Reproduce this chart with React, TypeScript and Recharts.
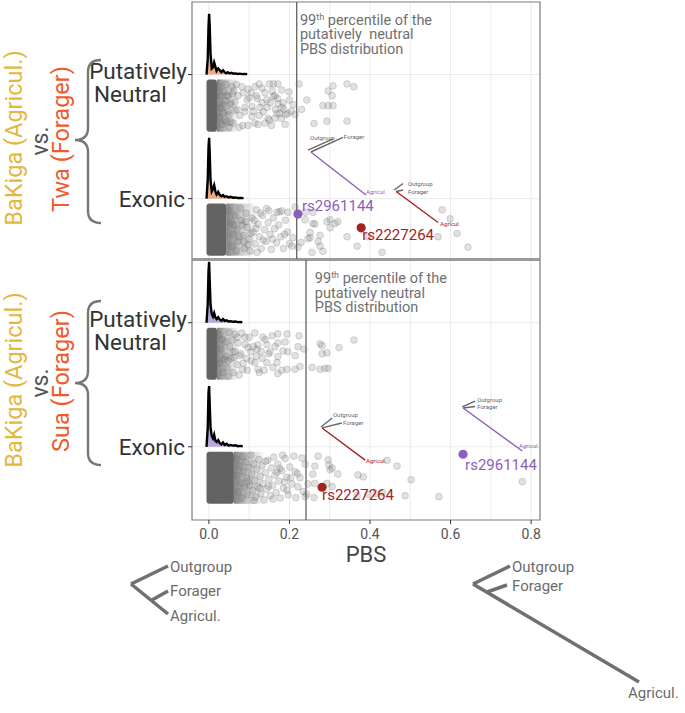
import React from "react";
import {
  ComposedChart,
  Scatter,
  Area,
  XAxis,
  YAxis,
  CartesianGrid,
  ReferenceLine,
  ReferenceArea,
} from "recharts";

// y positions of the four rows (top facet: Twa, bottom facet: Sua)
const rowTwaNeutral = 4;
const rowTwaExonic = 3;
const rowSuaNeutral = 2;
const rowSuaExonic = 1;
const rowTicks = [1, 2, 3, 4];
const pbsTicks = [0, 0.2, 0.4, 0.6, 0.8];
const pbsGrid = [0, 0.1, 0.2, 0.3, 0.4, 0.5, 0.6, 0.7, 0.8];

// 99th percentile of the putatively neutral PBS distribution
const twaCutoff = 0.218;
const suaCutoff = 0.241;

// [PBS, jitter] ; jitter 0 = top of the point strip, 1 = bottom
const twaNeutralPts: [number, number][] = [
  [0.171, 0.04], [0.181, 0.17], [0.199, 0.21], [0.214, 0.69], [0.224, 0.04], [0.243, 0.38],
  [0.261, 0.88], [0.283, 0.5], [0.296, 0.5], [0.308, 0.5], [0.296, 0.19], [0.306, 0.29],
  [0.308, 0.08], [0.343, 0.04], [0.36, 0.1], [0.293, 0.83], [0.343, 0.83], [0.17, 0.35],
  [0.16, 0.31], [0.165, 0.58], [0.18, 0.77], [0.19, 0.69], [0.205, 0.62], [0.15, 0.81],
  [0.155, 0.92], [0.114, 0.1], [0.132, 0.13], [0.139, 0.23], [0.157, 0.19], [0.144, 0.38],
  [0.164, 0.29], [0.184, 0.44], [0.181, 0.54], [0.186, 0.58], [0.169, 0.67], [0.176, 0.67],
  [0.196, 0.67], [0.147, 0.77], [0.164, 0.77], [0.139, 0.87], [0.122, 0.9], [0.114, 0.87],
  [0.097, 0.92], [0.084, 0.92], [0.189, 0.9], [0.152, 0.44], [0.132, 0.44], [0.127, 0.54],
  [0.107, 0.52], [0.089, 0.54], [0.072, 0.29], [0.097, 0.15], [0.082, 0.1], [0.057, 0.1],
  [0.065, 0.42], [0.047, 0.62], [0.077, 0.71], [0.04, 0.81], [0.06, 0.87], [0.045, 0.29],
  [0.035, 0.48], [0.052, 0.48], [0.089, 0.63], [0.107, 0.73], [0.15, 0.04], [0.125, 0.04],
  [0.1, 0.33], [0.118, 0.29], [0.075, 0.96], [0.095, 0.38], [0.062, 0.19], [0.05, 0.96],
  [0.11, 0.62], [0.125, 0.71], [0.135, 0.63], [0.07, 0.58], [0.085, 0.23], [0.105, 0.23],
  [0.145, 0.54], [0.16, 0.04], [0.172, 0.46], [0.2, 0.38], [0.21, 0.48], [0.23, 0.58],
  [0.12, 0.35], [0.025, 0.1], [0.028, 0.3], [0.03, 0.55], [0.026, 0.75], [0.032, 0.9],
  [0.038, 0.2], [0.04, 0.4], [0.036, 0.65], [0.042, 0.05], [0.044, 0.85], [0.048, 0.3],
  [0.05, 0.7], [0.055, 0.45], [0.058, 0.25], [0.054, 0.85], [0.065, 0.6], [0.068, 0.05],
];

const twaExonicPts: [number, number][] = [
  [0.149, 0.1], [0.169, 0.13], [0.181, 0.1], [0.196, 0.13], [0.214, 0.02], [0.239, 0.13],
  [0.258, 0.13], [0.239, 0.29], [0.263, 0.38], [0.301, 0.29], [0.32, 0.33], [0.301, 0.46],
  [0.251, 0.56], [0.276, 0.62], [0.251, 0.67], [0.271, 0.75], [0.229, 0.77], [0.221, 0.87],
  [0.276, 0.85], [0.256, 0.98], [0.206, 0.85], [0.209, 0.67], [0.343, 0.65], [0.368, 0.85],
  [0.43, 0.98], [0.395, 0.65], [0.569, 0.65], [0.579, 0.08], [0.599, 0.27], [0.616, 0.58],
  [0.643, 0.87], [0.283, 0.96], [0.246, 0.69], [0.258, 0.37], [0.293, 0.33], [0.313, 0.37],
  [0.05, 0.1], [0.055, 0.35], [0.06, 0.6], [0.058, 0.85], [0.065, 0.2], [0.07, 0.5],
  [0.072, 0.75], [0.078, 0.05], [0.08, 0.3], [0.085, 0.62], [0.088, 0.9], [0.092, 0.15],
  [0.095, 0.45], [0.1, 0.7], [0.102, 0.95], [0.107, 0.25], [0.11, 0.55], [0.115, 0.8],
  [0.118, 0.08], [0.122, 0.38], [0.125, 0.65], [0.13, 0.9], [0.133, 0.2], [0.138, 0.5],
  [0.142, 0.75], [0.147, 0.35], [0.152, 0.6], [0.155, 0.92], [0.16, 0.25], [0.163, 0.48],
  [0.168, 0.78], [0.173, 0.4], [0.178, 0.65], [0.185, 0.9], [0.19, 0.3], [0.195, 0.55],
  [0.2, 0.8], [0.068, 0.95], [0.083, 0.4], [0.097, 0.82], [0.113, 0.3], [0.128, 0.15],
  [0.143, 0.05], [0.158, 0.7], [0.175, 0.12], [0.188, 0.6], [0.12, 0.98], [0.135, 0.72],
  [0.062, 0.4], [0.075, 0.65], [0.091, 0.33], [0.104, 0.58], [0.117, 0.47], [0.087, 0.76],
];

const suaNeutralPts: [number, number][] = [
  [0.114, 0.06], [0.134, 0.15], [0.157, 0.12], [0.171, 0.08], [0.194, 0.08], [0.224, 0.12],
  [0.171, 0.27], [0.189, 0.25], [0.164, 0.35], [0.144, 0.31], [0.122, 0.31], [0.119, 0.4],
  [0.184, 0.44], [0.196, 0.46], [0.214, 0.54], [0.236, 0.4], [0.221, 0.35], [0.171, 0.56],
  [0.169, 0.69], [0.144, 0.69], [0.114, 0.69], [0.122, 0.83], [0.159, 0.79], [0.181, 0.85],
  [0.194, 0.83], [0.214, 0.83], [0.226, 0.77], [0.171, 0.92], [0.256, 0.79], [0.276, 0.29],
  [0.281, 0.5], [0.293, 0.48], [0.323, 0.37], [0.36, 0.21], [0.288, 0.81], [0.296, 0.81],
  [0.276, 0.83], [0.281, 0.33], [0.104, 0.46], [0.094, 0.6], [0.097, 0.37], [0.089, 0.15],
  [0.082, 0.06], [0.065, 0.08], [0.057, 0.21], [0.072, 0.27], [0.06, 0.46], [0.077, 0.54],
  [0.07, 0.73], [0.047, 0.65], [0.084, 0.83], [0.132, 0.6], [0.152, 0.46], [0.025, 0.1],
  [0.03, 0.4], [0.028, 0.7], [0.035, 0.9], [0.04, 0.25], [0.042, 0.55], [0.045, 0.8],
  [0.05, 0.05], [0.052, 0.35], [0.055, 0.6], [0.06, 0.9], [0.065, 0.45], [0.07, 0.15],
  [0.075, 0.95], [0.08, 0.5], [0.085, 0.7], [0.09, 0.3], [0.095, 0.85], [0.1, 0.15],
  [0.105, 0.65], [0.11, 0.35], [0.125, 0.9], [0.13, 0.45], [0.14, 0.2], [0.148, 0.5],
  [0.033, 0.2], [0.038, 0.62], [0.048, 0.98], [0.062, 0.58], [0.118, 0.55], [0.137, 0.85],
];

const suaExonicPts: [number, number][] = [
  [0.271, 0.04], [0.296, 0.12], [0.298, 0.23], [0.306, 0.29], [0.263, 0.25], [0.231, 0.08],
  [0.239, 0.21], [0.32, 0.42], [0.37, 0.44], [0.383, 0.48], [0.442, 0.13], [0.467, 0.25],
  [0.502, 0.54], [0.263, 0.62], [0.246, 0.63], [0.293, 0.62], [0.306, 0.69], [0.261, 0.92],
  [0.239, 0.9], [0.234, 0.79], [0.487, 0.88], [0.395, 0.85], [0.43, 0.81], [0.571, 0.9],
  [0.778, 0.58], [0.226, 0.5], [0.214, 0.37], [0.221, 0.69], [0.415, 0.83], [0.368, 0.88],
  [0.258, 0.42], [0.301, 0.33], [0.243, 0.85], [0.068, 0.1], [0.07, 0.45], [0.073, 0.8],
  [0.076, 0.25], [0.079, 0.61], [0.081, 0.93], [0.084, 0.05], [0.086, 0.37], [0.089, 0.7],
  [0.091, 0.16], [0.094, 0.51], [0.096, 0.86], [0.099, 0.28], [0.101, 0.66], [0.104, 0.02],
  [0.106, 0.43], [0.109, 0.77], [0.111, 0.2], [0.114, 0.56], [0.116, 0.91], [0.119, 0.32],
  [0.121, 0.69], [0.124, 0.11], [0.127, 0.47], [0.129, 0.84], [0.132, 0.24], [0.134, 0.62],
  [0.137, 0.97], [0.14, 0.39], [0.143, 0.74], [0.146, 0.13], [0.149, 0.53], [0.152, 0.88],
  [0.155, 0.29], [0.158, 0.66], [0.161, 0.06], [0.164, 0.44], [0.167, 0.81], [0.171, 0.21],
  [0.174, 0.57], [0.177, 0.93], [0.181, 0.35], [0.185, 0.72], [0.189, 0.09], [0.193, 0.49],
  [0.197, 0.86], [0.201, 0.27], [0.206, 0.63], [0.211, 0.04], [0.216, 0.92], [0.22, 0.41],
  [0.194, 0.76], [0.169, 0.38], [0.141, 0.15], [0.126, 0.72], [0.097, 0.58], [0.112, 0.98],
  [0.159, 0.95], [0.183, 0.02], [0.203, 0.5], [0.176, 0.3], [0.148, 0.68], [0.188, 0.59],
];

// solid end / faded end of the over-plotted point mass near zero
const twaNeutralCore = [0.02, 0.075];
const twaExonicCore = [0.043, 0.12];
const suaNeutralCore = [0.02, 0.075];
const suaExonicCore = [0.062, 0.14];

// density ridges: [PBS, relative height]
const twaNeutralDensity: [number, number][] = [
  [-0.006, 0], [-0.003, 0.25], [-0.001, 0.8], [0.0005, 1], [0.002, 0.8], [0.004, 0.35],
  [0.007, 0.1], [0.01, 0.12], [0.013, 0.2], [0.016, 0.13], [0.019, 0.06], [0.023, 0.1],
  [0.027, 0.07], [0.031, 0.04], [0.035, 0.07], [0.039, 0.04], [0.043, 0.02], [0.047, 0.04],
  [0.051, 0.02], [0.056, 0.03], [0.061, 0.015], [0.066, 0.02], [0.071, 0.01], [0.077, 0.015],
  [0.083, 0.008], [0.089, 0.012], [0.095, 0.008],
];
const twaExonicDensity: [number, number][] = [
  [-0.006, 0], [-0.003, 0.3], [-0.001, 0.85], [0.0005, 1], [0.002, 0.75], [0.004, 0.3],
  [0.007, 0.12], [0.01, 0.16], [0.013, 0.22], [0.016, 0.12], [0.019, 0.07], [0.023, 0.11],
  [0.027, 0.06], [0.031, 0.04], [0.035, 0.06], [0.039, 0.03], [0.044, 0.04], [0.049, 0.02],
  [0.054, 0.03], [0.06, 0.015], [0.066, 0.02], [0.072, 0.01], [0.079, 0.012], [0.086, 0.008],
];
const suaNeutralDensity: [number, number][] = [
  [-0.006, 0], [-0.003, 0.3], [-0.001, 0.85], [0.0005, 1], [0.002, 0.7], [0.004, 0.3],
  [0.007, 0.14], [0.01, 0.1], [0.013, 0.16], [0.016, 0.09], [0.019, 0.06], [0.023, 0.09],
  [0.027, 0.05], [0.031, 0.03], [0.035, 0.06], [0.039, 0.03], [0.044, 0.04], [0.049, 0.02],
  [0.054, 0.025], [0.06, 0.015], [0.066, 0.02], [0.072, 0.01], [0.078, 0.012], [0.083, 0.006],
];
const suaExonicDensity: [number, number][] = [
  [-0.006, 0], [-0.003, 0.3], [-0.001, 0.9], [0.0005, 1], [0.002, 0.7], [0.004, 0.32],
  [0.007, 0.18], [0.01, 0.14], [0.013, 0.2], [0.016, 0.1], [0.019, 0.08], [0.023, 0.11],
  [0.027, 0.06], [0.031, 0.04], [0.035, 0.07], [0.039, 0.03], [0.044, 0.05], [0.049, 0.02],
  [0.054, 0.03], [0.06, 0.02], [0.066, 0.025], [0.072, 0.01], [0.078, 0.015], [0.084, 0.006],
];

// highlighted SNPs
const twaSnps = [
  { id: "rs2961144", pbs: 0.221, jitter: 0.17 },
  { id: "rs2227264", pbs: 0.378, jitter: 0.46 },
];
const suaSnps = [
  { id: "rs2227264", pbs: 0.281, jitter: 0.7 },
  { id: "rs2961144", pbs: 0.631, jitter: 0.0 },
];

const PURPLE = "#8D5FBA";
const RED = "#A32222";
const GREY = "#666666";
const snpColor: Record<string, string> = { rs2961144: PURPLE, rs2227264: RED };

const FONT = "Roboto, sans-serif";
const DENS_H = 0.49;
const X_DOMAIN: [number, number] = [-0.042, 0.822];
const Y_DOMAIN: [number, number] = [0.41, 4.585];
const TWA_PANEL: [number, number] = [2.515, 4.585];
const SUA_PANEL: [number, number] = [0.41, 2.505];

const jitterY = (row: number, j: number) => row - (0.06 + j * 0.38);
const toPts = (pts: [number, number][], row: number) =>
  pts.map(([x, j]) => ({ x, y: jitterY(row, j) }));
const toDens = (d: [number, number][], row: number) =>
  d.map(([x, h]) => ({ x, y: row + h * DENS_H }));

const groups = [
  { row: rowTwaNeutral, pts: twaNeutralPts, core: twaNeutralCore, dens: twaNeutralDensity, fill: "#EDAA88" },
  { row: rowTwaExonic, pts: twaExonicPts, core: twaExonicCore, dens: twaExonicDensity, fill: "#EDAA88" },
  { row: rowSuaNeutral, pts: suaNeutralPts, core: suaNeutralCore, dens: suaNeutralDensity, fill: "#B8A8DA" },
  { row: rowSuaExonic, pts: suaExonicPts, core: suaExonicCore, dens: suaExonicDensity, fill: "#B8A8DA" },
];

// label offsets (px) for the SNP names
const snpData = [
  ...twaSnps.map((s, i) => ({
    x: s.pbs, y: jitterY(rowTwaExonic, s.jitter), id: s.id, color: snpColor[s.id],
    dx: i === 0 ? 4 : 1, dy: i === 0 ? -3 : 12,
  })),
  ...suaSnps.map((s, i) => ({
    x: s.pbs, y: jitterY(rowSuaExonic, s.jitter), id: s.id, color: snpColor[s.id],
    dx: i === 0 ? 0 : 2, dy: i === 0 ? 13 : 16,
  })),
];

// small gene-tree glyphs inside the panels
type Seg = [number, number, number, number, string];
const treeSegs: Seg[] = [
  [0.246, 3.392, 0.308, 3.481, GREY], [0.253, 3.376, 0.333, 3.493, GREY], [0.253, 3.376, 0.39, 3.029, PURPLE],
  [0.46, 3.07, 0.482, 3.122, GREY], [0.465, 3.058, 0.482, 3.07, GREY], [0.465, 3.058, 0.569, 2.808, RED],
  [0.278, 1.16, 0.306, 1.232, GREY], [0.281, 1.152, 0.33, 1.192, GREY], [0.281, 1.152, 0.388, 0.893, RED],
  [0.629, 1.321, 0.661, 1.369, GREY], [0.631, 1.313, 0.661, 1.325, GREY], [0.631, 1.313, 0.778, 0.966, PURPLE],
];
const treeLabels = [
  { x: 0.251, y: 3.473, text: "Outgroup", color: GREY },
  { x: 0.335, y: 3.481, text: "Forager", color: GREY },
  { x: 0.39, y: 3.037, text: "Agricul.", color: PURPLE },
  { x: 0.494, y: 3.102, text: "Outgroup", color: GREY },
  { x: 0.494, y: 3.037, text: "Forager", color: GREY },
  { x: 0.574, y: 2.78, text: "Agricul.", color: RED },
  { x: 0.308, y: 1.24, text: "Outgroup", color: GREY },
  { x: 0.333, y: 1.176, text: "Forager", color: GREY },
  { x: 0.39, y: 0.869, text: "Agricul.", color: RED },
  { x: 0.666, y: 1.361, text: "Outgroup", color: GREY },
  { x: 0.666, y: 1.305, text: "Forager", color: GREY },
  { x: 0.77, y: 0.99, text: "Agricul.", color: PURPLE },
];

const cutoffNotes = [
  { x: 0.226, y: 4.4, second: "putatively  neutral" },
  { x: 0.263, y: 2.32, second: "putatively neutral" },
];

const Dot = (p: any) => (
  <circle cx={p.cx} cy={p.cy} r={3.4} fill="#6a6a6a" fillOpacity={0.2} stroke="#6a6a6a" strokeOpacity={0.28} strokeWidth={0.8} />
);

const SnpShape = (p: any) => {
  const d = p.payload;
  return (
    <g>
      <circle cx={p.cx} cy={p.cy} r={4.6} fill={d.color} />
      <text x={p.cx + d.dx} y={p.cy + d.dy} fill={d.color} fontSize={15} fontFamily={FONT}>
        {d.id}
      </text>
    </g>
  );
};

const SmallText = (p: any) => {
  const d = p.payload;
  return (
    <text x={p.cx} y={p.cy} fill={d.color} fontSize={6} fontFamily={FONT}>
      {d.text}
    </text>
  );
};

const CutoffNote = (p: any) => {
  const d = p.payload;
  return (
    <text x={p.cx} y={p.cy} fill="#707070" fontSize={14.5} fontFamily={FONT} style={{ whiteSpace: "pre" }}>
      <tspan x={p.cx} dy={0}>99</tspan>
      <tspan dy={-5} fontSize={9}>th</tspan>
      <tspan dy={5}> percentile of the</tspan>
      <tspan x={p.cx} dy={14.5}>{d.second}</tspan>
      <tspan x={p.cx} dy={14.5}>PBS distribution</tspan>
    </text>
  );
};

const RowTick = (p: any) => {
  const { x, y, payload } = p;
  const t = { fill: "#333333", fontSize: 22.5, fontFamily: FONT };
  if (payload.value === 2 || payload.value === 4) {
    return (
      <text x={x - 1} y={y + 4} textAnchor="end" {...t}>
        <tspan x={x - 1}>Putatively</tspan>
        <tspan x={x - 94} dy={23} textAnchor="start">Neutral</tspan>
      </text>
    );
  }
  return (
    <text x={x - 3} y={y + 8} textAnchor="end" {...t}>Exonic</text>
  );
};

const Brace = ({ top, bottom, tip }: { top: number; bottom: number; tip: number }) => (
  <path
    d={`M101,${top} Q88,${top} 88,${top + 12} L88,${tip - 12} Q88,${tip} 75,${tip} Q88,${tip} 88,${tip + 12} L88,${bottom - 12} Q88,${bottom} 101,${bottom}`}
    fill="none"
    stroke="#777"
    strokeWidth={2.4}
  />
);

const facetLabels = [
  { forager: "Twa (Forager)", center: 138, tip: 140, top: 60, bottom: 223 },
  { forager: "Sua (Forager)", center: 380, tip: 383, top: 301, bottom: 465 },
];

const Overlay = () => (
  <svg width={685} height={713} style={{ position: "absolute", left: 0, top: 0, pointerEvents: "none" }}>
    {facetLabels.map((f) => (
      <g key={f.forager} fontFamily={FONT}>
        <text transform={`translate(22,${f.center}) rotate(-90)`} textAnchor="middle" fontSize={23.5} fill="#E4B73E">
          BaKiga (Agricul.)
        </text>
        <text transform={`translate(48,${f.center + 3}) rotate(-90)`} textAnchor="middle" fontSize={23} fill="#555">
          vs.
        </text>
        <text transform={`translate(69,${f.center + 1}) rotate(-90)`} textAnchor="middle" fontSize={23.5} fill="#EF5A2A">
          {f.forager}
        </text>
        <Brace top={f.top} bottom={f.bottom} tip={f.tip} />
      </g>
    ))}
    <g stroke="#707070" strokeWidth={3.5} fill="none">
      <path d="M131,584 L168,566" />
      <path d="M131,584 L168,614" />
      <path d="M152,600 L168,591" />
      <path d="M473,584 L510,566" />
      <path d="M473,584 L639,682" />
      <path d="M487,592 L507,585" />
    </g>
    <g fontFamily={FONT} fontSize={15} fill="#6b6b6b">
      <text x={170} y={572}>Outgroup</text>
      <text x={170} y={596}>Forager</text>
      <text x={170} y={621}>Agricul.</text>
      <text x={512} y={572}>Outgroup</text>
      <text x={512} y={591}>Forager</text>
      <text x={628} y={698}>Agricul.</text>
    </g>
  </svg>
);

export default function App() {
  return (
    <div style={{ position: "absolute", left: 0, top: 0, width: 685, height: 713, background: "#fff" }}>
      <ComposedChart width={685} height={570} margin={{ top: 2, right: 145, bottom: 0, left: 0 }}>
        <defs>
          <linearGradient id="coreFade" x1="0" y1="0" x2="1" y2="0">
            <stop offset="0" stopColor="#636363" stopOpacity={0.8} />
            <stop offset="0.45" stopColor="#636363" stopOpacity={0.35} />
            <stop offset="1" stopColor="#636363" stopOpacity={0} />
          </linearGradient>
        </defs>
        <CartesianGrid stroke="#ebebeb" verticalValues={pbsGrid} horizontalValues={rowTicks} />
        <XAxis
          type="number"
          dataKey="x"
          domain={X_DOMAIN}
          allowDataOverflow
          ticks={pbsTicks}
          tickFormatter={(v) => v.toFixed(1)}
          axisLine={false}
          tickSize={4}
          tickMargin={5}
          tickLine={{ stroke: "#333" }}
          tick={{ fill: "#555", fontSize: 14, fontFamily: FONT }}
          height={50}
          label={{ value: "PBS", position: "insideBottom", offset: 8, fill: "#444", fontSize: 22, fontFamily: FONT }}
        />
        <YAxis
          type="number"
          dataKey="y"
          domain={Y_DOMAIN}
          allowDataOverflow
          ticks={rowTicks}
          width={192}
          axisLine={false}
          tickSize={4}
          tickMargin={0}
          tickLine={{ stroke: "#333" }}
          tick={<RowTick />}
        />
        {groups.map((g) => (
          <ReferenceArea key={`f${g.row}`} x1={g.core[0]} x2={g.core[1]} y1={g.row - 0.46} y2={g.row - 0.04}
            fill="url(#coreFade)" fillOpacity={1} stroke="none" />
        ))}
        {groups.map((g) => (
          <ReferenceArea key={`c${g.row}`} x1={-0.006} x2={g.core[0]} y1={g.row - 0.46} y2={g.row - 0.04}
            fill="#636363" fillOpacity={1} stroke="none" radius={3} />
        ))}
        {groups.map((g) => (
          <Scatter key={`p${g.row}`} data={toPts(g.pts, g.row)} shape={<Dot />} isAnimationActive={false} />
        ))}
        {groups.map((g) => (
          <Area
            key={`d${g.row}`}
            data={toDens(g.dens, g.row)}
            dataKey="y"
            type="linear"
            baseValue={g.row}
            stroke="#000"
            strokeWidth={2.4}
            fill={g.fill}
            fillOpacity={1}
            dot={false}
            activeDot={false}
            isAnimationActive={false}
          />
        ))}
        <ReferenceLine segment={[{ x: twaCutoff, y: TWA_PANEL[0] }, { x: twaCutoff, y: TWA_PANEL[1] }]} stroke="#555" strokeWidth={1.2} />
        <ReferenceLine segment={[{ x: suaCutoff, y: SUA_PANEL[0] }, { x: suaCutoff, y: SUA_PANEL[1] }]} stroke="#555" strokeWidth={1.2} />
        {treeSegs.map((s, i) => (
          <ReferenceLine key={`t${i}`} segment={[{ x: s[0], y: s[1] }, { x: s[2], y: s[3] }]} stroke={s[4]} strokeWidth={1.4} />
        ))}
        <Scatter data={treeLabels} shape={<SmallText />} isAnimationActive={false} />
        <Scatter data={cutoffNotes} shape={<CutoffNote />} isAnimationActive={false} />
        <Scatter data={snpData} shape={<SnpShape />} isAnimationActive={false} />
        <ReferenceArea x1={X_DOMAIN[0]} x2={X_DOMAIN[1]} y1={TWA_PANEL[0]} y2={TWA_PANEL[1]} fill="none" stroke="#7a7a7a" strokeWidth={1.2} />
        <ReferenceArea x1={X_DOMAIN[0]} x2={X_DOMAIN[1]} y1={SUA_PANEL[0]} y2={SUA_PANEL[1]} fill="none" stroke="#7a7a7a" strokeWidth={1.2} />
      </ComposedChart>
      <Overlay />
    </div>
  );
}
